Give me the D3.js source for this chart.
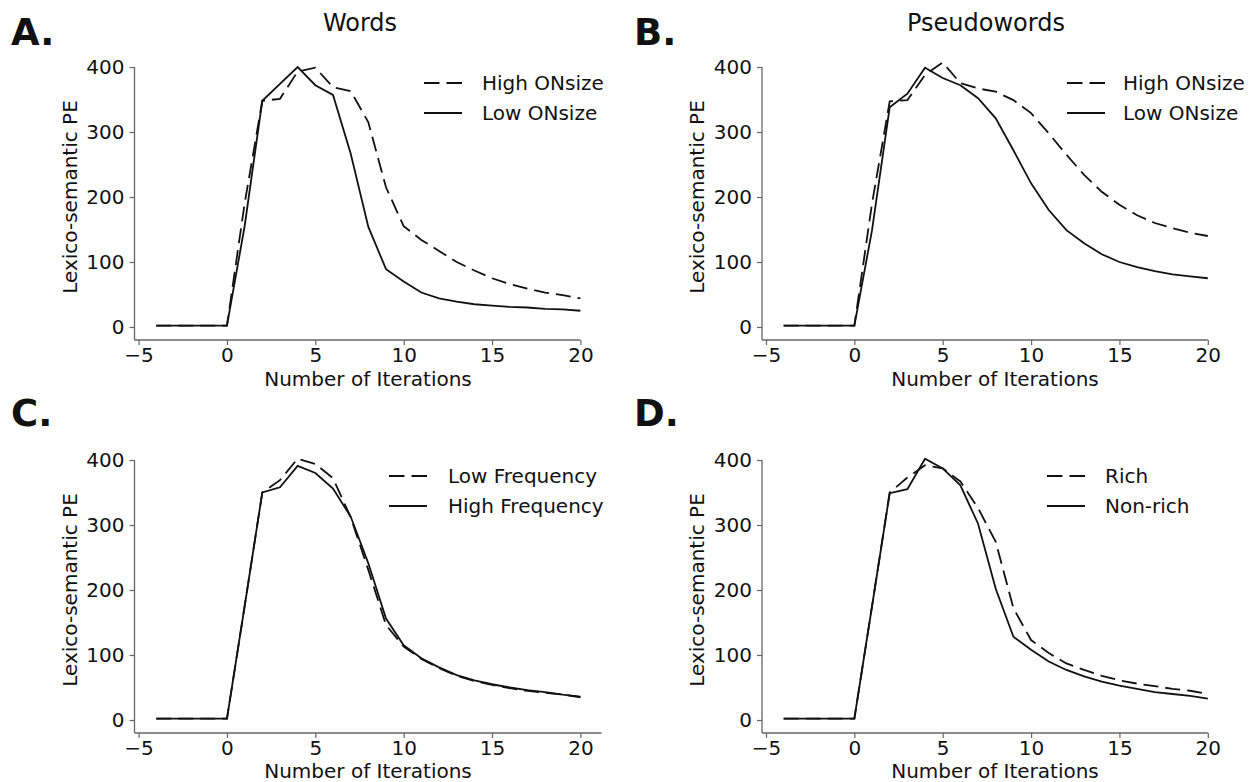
<!DOCTYPE html>
<html>
<head>
<meta charset="utf-8">
<script src="https://cdn.jsdelivr.net/npm/d3@7"></script>
<style>
  html, body { margin: 0; padding: 0; background: #fff; }
  svg { display: block; }
  text { font-family: "DejaVu Sans", sans-serif; fill: #111; }
</style>
</head>
<body>
<svg id="chart" width="1251" height="782"></svg>
<script>
// ---- data ----
const iterations = [-4,-3,-2,-1,0,1,2,3,4,5,6,7,8,9,10,11,12,13,14,15,16,17,18,19,20];

const wordsHigh  = [2,2,2,2,2,190,348,351,393,399,369,363,315,215,155,134,117,100,87,75,66,59,53,49,44];
const wordsLow   = [2,2,2,2,2,155,348,374,400,372,357,267,154,89,70,53,44,39,35,33,31,30,28,27,25];

const pseudoHigh = [2,2,2,2,2,190,347,349,388,407,375,367,362,349,329,298,265,234,208,188,172,160,152,145,140];
const pseudoLow  = [2,2,2,2,2,149,338,359,399,383,372,352,321,272,221,180,149,129,112,100,92,86,81,78,75];

const freqLow    = [2,2,2,2,2,175,350,369,402,394,372,312,231,146,113,94,80,68,60,54,49,45,42,39,35];
const freqHigh   = [2,2,2,2,2,175,350,358,391,380,356,313,241,156,115,95,81,69,61,55,50,46,43,39,36];

const richVals    = [2,2,2,2,2,175,350,373,392,387,367,326,274,172,123,103,87,77,68,61,56,52,48,45,40];
const nonRichVals = [2,2,2,2,2,175,349,355,402,387,361,302,202,128,108,90,77,67,59,53,48,43,40,37,33];

const xTicks = [-5, 0, 5, 10, 15, 20];
const yTicks = [0, 100, 200, 300, 400];

const panelLetters = ["A.", "B.", "C.", "D."];
const panelTitles  = ["Words", "Pseudowords", "", ""];
const legendLabels = [
  ["High ONsize", "Low ONsize"],
  ["High ONsize", "Low ONsize"],
  ["Low Frequency", "High Frequency"],
  ["Rich", "Non-rich"]
];
const xLabel = "Number of Iterations";
const yLabel = "Lexico-semantic PE";

// ---- layout ----
const panels = [
  { dashed: wordsHigh,  solid: wordsLow,    x0: 138.6, x1: 580.4, yTop: 67,  yZero: 327, axisY: 340, spineX: 134.5, xEnd: 20,   legX: 424,  legTextX: 482,  legY: 83,  letterX: 11,  letterY: 45, titleX: 360, xlabX: 368, xlabY: 386 },
  { dashed: pseudoHigh, solid: pseudoLow,   x0: 766,   x1: 1207.8, yTop: 67, yZero: 327, axisY: 340, spineX: 762,   xEnd: 20,   legX: 1067, legTextX: 1123, legY: 83,  letterX: 634, letterY: 45, titleX: 986, xlabX: 995, xlabY: 386 },
  { dashed: freqLow,    solid: freqHigh,    x0: 138.6, x1: 580.4, yTop: 460, yZero: 720, axisY: 733, spineX: 134.5, xEnd: 21.2, legX: 389,  legTextX: 448,  legY: 476, letterX: 11,  letterY: 426, titleX: 0, xlabX: 368, xlabY: 778 },
  { dashed: richVals,   solid: nonRichVals, x0: 766,   x1: 1207.8, yTop: 460, yZero: 720, axisY: 733, spineX: 762,   xEnd: 20,   legX: 1047, legTextX: 1105, legY: 476, letterX: 634, letterY: 426, titleX: 0, xlabX: 995, xlabY: 778 }
];

const svg = d3.select("#chart");
const spineColor = "#666";
const lineColor = "#111";
const fs = 20;
const dash = "15,7";

panels.forEach((p, i) => {
  const x = d3.scaleLinear().domain([-5, 20]).range([p.x0, p.x1]);
  const y = d3.scaleLinear().domain([0, 400]).range([p.yZero, p.yTop]);
  const g = svg.append("g");

  // x axis
  const xAxis = d3.axisBottom(x).tickValues(xTicks).tickSize(5).tickPadding(3);
  const gx = g.append("g").attr("transform", `translate(0,${p.axisY})`).call(xAxis);
  gx.select(".domain").remove();
  gx.append("line")
    .attr("x1", p.spineX).attr("x2", x(p.xEnd))
    .attr("y1", 0).attr("y2", 0)
    .attr("stroke", spineColor).attr("stroke-width", 1.3);
  gx.selectAll(".tick line").attr("stroke", spineColor).attr("stroke-width", 1.2);
  gx.selectAll(".tick text").attr("font-size", fs).attr("font-family", "DejaVu Sans").attr("fill", "#111");

  // y axis
  const yAxis = d3.axisLeft(y).tickValues(yTicks).tickSize(5).tickPadding(5);
  const gy = g.append("g").attr("transform", `translate(${p.spineX},0)`).call(yAxis);
  gy.select(".domain").remove();
  gy.append("line")
    .attr("x1", 0).attr("x2", 0)
    .attr("y1", y(400)).attr("y2", p.axisY)
    .attr("stroke", spineColor).attr("stroke-width", 1.3);
  gy.selectAll(".tick line").attr("stroke", spineColor).attr("stroke-width", 1.2);
  gy.selectAll(".tick text").attr("font-size", fs).attr("font-family", "DejaVu Sans").attr("fill", "#111");

  // axis labels
  g.append("text")
    .attr("x", p.xlabX)
    .attr("y", p.xlabY)
    .attr("text-anchor", "middle")
    .attr("font-size", fs)
    .text(xLabel);
  const ylx = p.spineX - 65, yly = (p.yTop + p.yZero) / 2;
  g.append("text")
    .attr("transform", `translate(${ylx},${yly}) rotate(-90)`)
    .attr("text-anchor", "middle")
    .attr("dominant-baseline", "central")
    .attr("font-size", fs)
    .text(yLabel);

  // title
  if (panelTitles[i]) {
    g.append("text")
      .attr("x", p.titleX)
      .attr("y", 31)
      .attr("text-anchor", "middle")
      .attr("font-size", 24)
      .text(panelTitles[i]);
  }

  // panel letter
  g.append("text")
    .attr("x", p.letterX).attr("y", p.letterY)
    .attr("font-size", 37).attr("font-weight", "bold")
    .attr("fill", "#000")
    .text(panelLetters[i]);

  // lines
  const line = d3.line().x((d, k) => x(iterations[k])).y(d => y(d));
  g.append("path").datum(p.dashed)
    .attr("d", line).attr("fill", "none")
    .attr("stroke", lineColor).attr("stroke-width", 1.8)
    .attr("stroke-dasharray", dash);
  g.append("path").datum(p.solid)
    .attr("d", line).attr("fill", "none")
    .attr("stroke", lineColor).attr("stroke-width", 1.8);

  // legend
  const lg = g.append("g");
  [0, 1].forEach(j => {
    const ly = p.legY + j * 30;
    lg.append("line")
      .attr("x1", p.legX).attr("x2", p.legX + 38)
      .attr("y1", ly).attr("y2", ly)
      .attr("stroke", lineColor).attr("stroke-width", 1.8)
      .attr("stroke-dasharray", j === 0 ? "15.5,7" : null);
    lg.append("text")
      .attr("x", p.legTextX).attr("y", ly)
      .attr("dominant-baseline", "central")
      .attr("font-size", fs)
      .text(legendLabels[i][j]);
  });
});
</script>
</body>
</html>
